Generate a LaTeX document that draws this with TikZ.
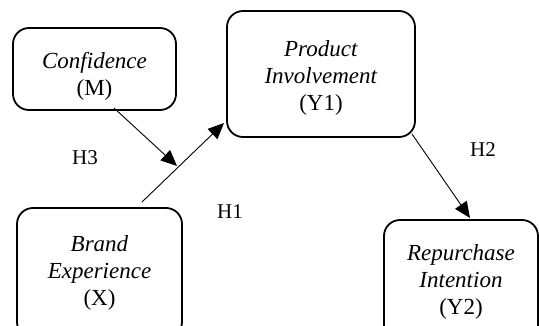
\documentclass[tikz,border=0pt]{standalone}
\usepackage{fontspec}
\setmainfont{Liberation Serif}
\usetikzlibrary{arrows.meta}
\begin{document}
\begin{tikzpicture}[x=1pt,y=-1pt,
  var/.style={draw,line width=1.8pt,rounded corners=16pt,align=center,inner sep=0pt,
    font=\fontsize{23}{27}\selectfont},
  link/.style={line width=0.9pt,-{Triangle[length=16pt,width=14pt]}},
  hyp/.style={font=\fontsize{21}{24}\selectfont}]
\useasboundingbox (0,0) rectangle (539,326);
\node[var,minimum width=163pt,minimum height=82pt] (conf) at (94.5,69) {\rule{0pt}{31pt}\textit{Confidence}\\(M)};
\node[var,minimum width=188pt,minimum height=126pt] (prod) at (321,74) {\rule{0pt}{23pt}\textit{Product}\\\textit{Involvement}\\(Y1)};
\node[var,minimum width=165pt,minimum height=130pt] (brand) at (99.5,273) {\textit{Brand}\\\textit{Experience}\\(X)};
\node[var,minimum width=154pt,minimum height=124pt] (rep) at (461,282) {\textit{Repurchase}\\\textit{Intention}\\(Y2)};
\coordinate (c1) at (114,108);
\coordinate (j) at (177,166);
\coordinate (b1) at (142,202);
\coordinate (p1) at (224,123);
\coordinate (p2) at (412,134);
\coordinate (r1) at (470,218);
\draw[link] (c1) -- (j);
\draw[link] (b1) -- (p1);
\draw[link] (p2) -- (r1);
\node[hyp] (h3) at (85,158) {H3};
\node[hyp] (h1) at (230,212) {H1};
\node[hyp] (h2) at (483,150) {H2};
\end{tikzpicture}
\end{document}
